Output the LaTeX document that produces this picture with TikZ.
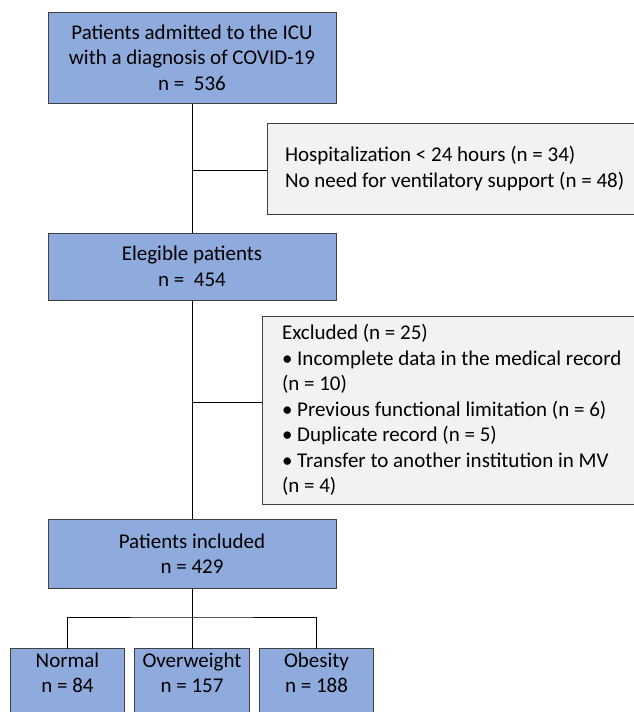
\documentclass[tikz,border=0pt]{standalone}
\usepackage{fontspec}
\setmainfont{Carlito}
\usetikzlibrary{backgrounds,calc}
\definecolor{boxblue}{HTML}{8FAADC}
\definecolor{boxgray}{HTML}{F2F2F2}
\definecolor{edgecol}{HTML}{404040}
\begin{document}
\begin{tikzpicture}[x=1pt,y=-1pt,
  txt/.style={font=\fontsize{21}{25.5}\selectfont},
  bluebox/.style={txt, draw=edgecol, line width=1pt, fill=boxblue, align=center, inner sep=0pt},
  leafbox/.style={txt, align=center, inner sep=0pt, minimum height=48pt},
  graybox/.style={txt, draw=edgecol, line width=1pt, fill=boxgray, align=left, inner ysep=0pt,
    execute at begin node={\spaceskip=0.226em\relax\xspaceskip=0.226em\relax}},
  conn/.style={draw=black, line width=0.9pt}]
\useasboundingbox (0,0) rectangle (633,712);

\node[bluebox, minimum width=288pt, minimum height=91pt] (adm) at (192,57.5)
  {Patients admitted to the ICU\\with a diagnosis of COVID-19\\n =\ \ 536};
\node[graybox, inner xsep=18pt, text width=364pt, minimum width=400pt, minimum height=91pt] (ex1) at (467,168.5)
  {Hospitalization < 24 hours (n = 34)\\No need for ventilatory support (n = 48)};
\node[bluebox, minimum width=288pt, minimum height=67pt] (elig) at (192,266.5)
  {Elegible patients\\n =\ \ 454};
\node[graybox, inner xsep=20pt, text width=360pt, minimum width=400pt, minimum height=188pt] (ex2) at (462,410)
  {Excluded (n = 25)\\
   • Incomplete data in the medical record\\
   (n = 10)\\
   • Previous functional limitation (n = 6)\\
   • Duplicate record (n = 5)\\
   • Transfer to another institution in MV\\
   (n = 4)};
\node[bluebox, minimum width=288pt, minimum height=69pt] (incl) at (192,553.5)
  {Patients included\\n = 429};
\node[leafbox, minimum width=113pt] (normal) at (67.5,673) {Normal\\n = 84};
\node[leafbox, minimum width=114pt] (ow) at (192,673) {Overweight\\n = 157};
\node[leafbox, minimum width=113pt] (ob) at (316.5,673) {Obesity\\n = 188};

\begin{scope}[on background layer]
  \foreach \n in {normal,ow,ob}
    \draw[draw=edgecol, line width=1pt, fill=boxblue] (\n.north west) rectangle ($(\n.north east)+(0,100)$);
\end{scope}

\coordinate (j1) at (192,170);
\coordinate (j2) at (192,402);
\coordinate (j3) at (192,617);
\draw[conn] (adm.south) -- (elig.north);
\draw[conn] (j1) -- (j1 -| ex1.west);
\draw[conn] (elig.south) -- (incl.north);
\draw[conn] (j2) -- (j2 -| ex2.west);
\draw[conn] (incl.south) -- (ow.north);
\draw[conn] (normal.north) |- (j3) -| (ob.north);
\end{tikzpicture}
\end{document}
